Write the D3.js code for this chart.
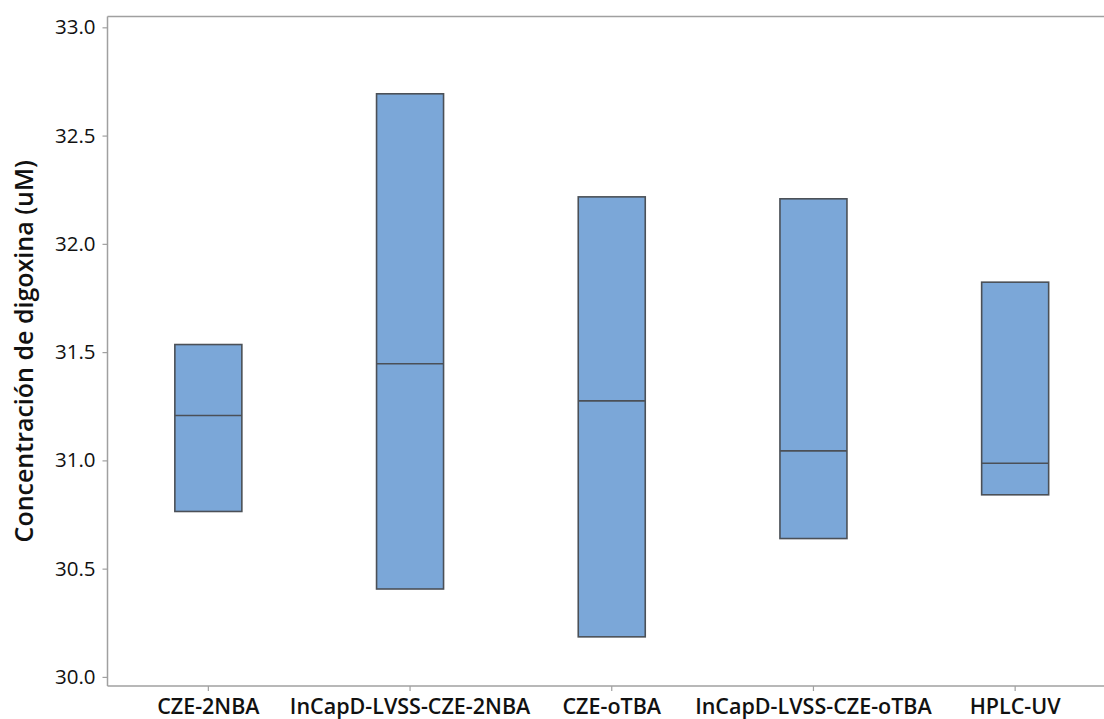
<!DOCTYPE html>
<html>
<head>
<meta charset="utf-8">
<script src="https://cdn.jsdelivr.net/npm/d3@7"></script>
<style>
  html, body { margin: 0; padding: 0; background: #fff; }
  svg { display: block; }
  svg text { font-family: "Open Sans", "Noto Sans", sans-serif; }
</style>
</head>
<body>
<svg id="chart" width="1104" height="719"></svg>
<script>
// Method names and box statistics (lower edge, median, upper edge), in uM
const categories = ["CZE-2NBA", "InCapD-LVSS-CZE-2NBA", "CZE-oTBA", "InCapD-LVSS-CZE-oTBA", "HPLC-UV"];
const lower  = [30.764, 30.406, 30.185, 30.639, 30.841];
const median = [31.207, 31.446, 31.275, 31.044, 30.987];
const upper  = [31.535, 32.693, 32.217, 32.208, 31.823];
const yTicks = [30.0, 30.5, 31.0, 31.5, 32.0, 32.5, 33.0];
const yTitle = "Concentración de digoxina (uM)";

const svg = d3.select("#chart");
const plotLeft = 107.5, plotTop = 16.5, plotBottom = 686;
const step = 201.7;
const plotRight = plotLeft + step * categories.length;
const font = '"Open Sans", "Noto Sans", sans-serif';

const x = d3.scaleBand().domain(categories).range([plotLeft, plotRight]).paddingInner(0).paddingOuter(0);
const y = d3.scaleLinear().domain([29.958, 33.05]).range([plotBottom, plotTop]);
const boxW = 67;

const axisColor = "#a0a0a0";

// Frame: left and top borders
svg.append("line").attr("x1", plotLeft).attr("x2", plotLeft).attr("y1", plotTop).attr("y2", plotBottom)
  .attr("stroke", axisColor).attr("stroke-width", 1.5);
svg.append("line").attr("x1", plotLeft).attr("x2", 1104).attr("y1", plotTop).attr("y2", plotTop)
  .attr("stroke", axisColor).attr("stroke-width", 1.5);

// Y axis
const yAxis = d3.axisLeft(y).tickValues(yTicks).tickFormat(d3.format(".1f")).tickSize(5).tickPadding(7);
const gy = svg.append("g").attr("transform", `translate(${plotLeft},0)`).call(yAxis)
  .attr("font-family", font);
gy.select(".domain").remove();
gy.selectAll(".tick line").attr("stroke", axisColor).attr("stroke-width", 1.2);
gy.selectAll(".tick text").attr("fill", "#111").style("font-size", "20.5px").style("font-weight", 400);

// X axis
const xAxis = d3.axisBottom(x).tickSize(5).tickPadding(8);
const gx = svg.append("g").attr("transform", `translate(0,${plotBottom})`).call(xAxis)
  .attr("font-family", font);
gx.select(".domain").attr("stroke", axisColor).attr("stroke-width", 1.5)
  .attr("d", `M${plotLeft},0H1104`);
gx.selectAll(".tick line").attr("stroke", axisColor).attr("stroke-width", 1.2);
gx.selectAll(".tick text").attr("fill", "#111").style("font-size", "21.5px").style("font-weight", 600);

// Boxes
const data = categories.map((c, i) => ({ c, lo: lower[i], med: median[i], hi: upper[i] }));
const g = svg.append("g");
g.selectAll("rect.box").data(data).join("rect")
  .attr("class", "box")
  .attr("x", d => x(d.c) + x.bandwidth() / 2 - boxW / 2)
  .attr("width", boxW)
  .attr("y", d => y(d.hi))
  .attr("height", d => y(d.lo) - y(d.hi))
  .attr("fill", "#7ba7d8")
  .attr("stroke", "#4b5057")
  .attr("stroke-width", 1.6);
g.selectAll("line.med").data(data).join("line")
  .attr("class", "med")
  .attr("x1", d => x(d.c) + x.bandwidth() / 2 - boxW / 2)
  .attr("x2", d => x(d.c) + x.bandwidth() / 2 + boxW / 2)
  .attr("y1", d => y(d.med)).attr("y2", d => y(d.med))
  .attr("stroke", "#4b5057").attr("stroke-width", 1.6);

// Y title
svg.append("text")
  .attr("transform", `translate(33,${(plotTop + plotBottom) / 2}) rotate(-90)`)
  .attr("text-anchor", "middle")
  .attr("fill", "#111")
  .style("font-size", "25px")
  .style("font-weight", 600)
  .text(yTitle);
</script>
</body>
</html>
